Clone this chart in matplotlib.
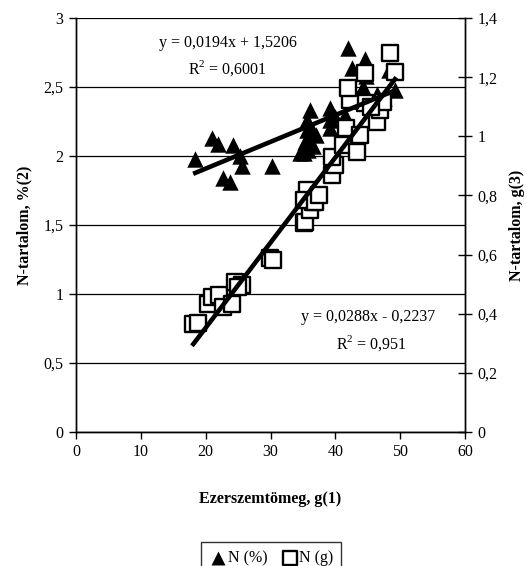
import numpy as np
import matplotlib
matplotlib.use("Agg")
import matplotlib.pyplot as plt
from matplotlib.ticker import FuncFormatter

plt.rcParams['font.family'] = ['Liberation Serif', 'DejaVu Serif']
plt.rcParams['mathtext.fontset'] = 'custom'
plt.rcParams['mathtext.rm'] = 'Liberation Serif'

# N (%) - left axis
pct_x = [18.4, 20.9, 21.9, 24.2, 22.7, 23.8, 25.3, 25.6, 30.2, 34.6, 35.1, 35.3,
         35.6, 35.6, 35.6, 35.8, 36.1, 36.4, 36.6, 37.0, 39.2, 39.2, 39.2, 40.0,
         41.5, 42.0, 42.5, 43.5, 44.3, 44.6, 44.8, 46.5, 47.5, 48.3, 49.2]
pct_y = [1.98, 2.13, 2.09, 2.08, 1.84, 1.81, 2.00, 1.93, 1.93, 2.02, 2.02, 2.10,
         2.26, 2.19, 2.12, 2.04, 2.33, 2.19, 2.07, 2.15, 2.35, 2.26, 2.20, 2.28,
         2.30, 2.78, 2.64, 2.40, 2.50, 2.70, 2.58, 2.45, 2.42, 2.62, 2.48]

# N (g) - right axis
g_x = [18.1, 18.8, 20.4, 21.0, 22.0, 22.7, 24.0, 24.5, 25.6, 25.0, 29.9, 30.4,
       35.1, 35.3, 36.1, 36.6, 35.6, 35.1, 36.9, 37.5, 39.5, 40.0, 39.5, 41.2,
       43.3, 41.7, 43.8, 46.4, 44.6, 46.9, 47.4, 42.3, 42.0, 44.6, 49.2, 48.5, 45.5]
g_y = [0.365, 0.370, 0.433, 0.455, 0.463, 0.424, 0.433, 0.508, 0.497, 0.490, 0.588, 0.582,
       0.706, 0.710, 0.751, 0.779, 0.818, 0.785, 0.779, 0.800, 0.869, 0.903, 0.930, 0.970,
       0.948, 1.027, 1.005, 1.049, 1.113, 1.090, 1.117, 1.123, 1.162, 1.213, 1.218, 1.280, 1.100]

# trendline coefficients as printed on the chart
pct_slope, pct_icpt = 0.0194, 1.5206
g_slope, g_icpt = 0.0288, -0.2237

comma = FuncFormatter(lambda v, p: ('%g' % round(v, 2)).replace('.', ','))

fig = plt.figure(figsize=(5.27, 5.66), dpi=100)
ax = fig.add_axes([76 / 527, 1 - 432 / 566, (465 - 76) / 527, (432 - 18) / 566])
ax2 = ax.twinx()

ax.scatter(pct_x, pct_y, marker='^', s=140, c='black', linewidths=0, label='N (%)', zorder=3)
ax2.scatter(g_x, g_y, marker='s', s=130, facecolors='white', edgecolors='black',
            linewidths=1.7, label='N (g)', zorder=3)

xp = np.array([min(pct_x), max(pct_x)])
ax2.plot(xp, pct_slope * xp + pct_icpt, color='black', lw=3.3, transform=ax.transData, zorder=4)
xg = np.array([min(g_x), max(g_x)])
ax2.plot(xg, g_slope * xg + g_icpt, color='black', lw=3.3, zorder=4)

ax.set_xlim(0, 60)
ax.set_ylim(0, 3)
ax2.set_ylim(0, 1.4)
ax.set_xticks(np.arange(0, 61, 10))
ax.set_yticks(np.arange(0, 3.01, 0.5))
ax2.set_yticks(np.arange(0, 1.41, 0.2))
ax.yaxis.set_major_formatter(comma)
ax2.yaxis.set_major_formatter(comma)
ax.grid(axis='y', color='black', lw=0.9)
ax.set_axisbelow(True)

for a in (ax, ax2):
    for s in a.spines.values():
        s.set_linewidth(1.0)
    a.spines['top'].set_visible(False)
ax.tick_params(axis='both', direction='out', length=5, width=1, labelsize=11.5, pad=4)
ax2.tick_params(axis='y', direction='inout', length=10, width=1, labelsize=11.5, pad=4)

ax.set_xlabel('Ezerszemtömeg, g(1)', fontweight='bold', fontsize=11.5, labelpad=22)
ax.set_ylabel('N-tartalom, %(2)', fontweight='bold', fontsize=11.5, labelpad=8)
ax2.set_ylabel('N-tartalom, g(3)', fontweight='bold', fontsize=11.5, labelpad=8)

ax.text(0.39, 0.94, 'y = 0,0194x + 1,5206', transform=ax.transAxes, ha='center', va='center', fontsize=11.5)
ax.text(0.39, 0.88, 'R$^{2}$ = 0,6001', transform=ax.transAxes, ha='center', va='center', fontsize=11.5)
ax.text(0.75, 0.277, 'y = 0,0288x - 0,2237', transform=ax.transAxes, ha='center', va='center', fontsize=11.5)
ax.text(0.76, 0.215, 'R$^{2}$ = 0,951', transform=ax.transAxes, ha='center', va='center', fontsize=11.5)

h1, l1 = ax.get_legend_handles_labels()
h2, l2 = ax2.get_legend_handles_labels()
leg = fig.legend(h1 + h2, l1 + l2, loc='upper center', bbox_to_anchor=(271 / 527, 1 - 534 / 566),
                 ncol=2, frameon=True, fancybox=False, edgecolor='black', fontsize=11.5,
                 handletextpad=0.0, columnspacing=0.8, handlelength=1.2, markerscale=0.85,
                 borderpad=0.5)
leg.get_frame().set_linewidth(1.0)

fig.savefig('out.png', dpi=100)
